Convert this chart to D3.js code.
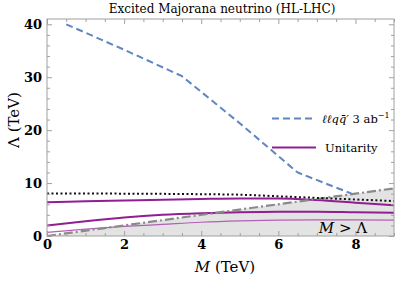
<!DOCTYPE html>
<html>
<head>
<meta charset="utf-8">
<script src="https://cdn.jsdelivr.net/npm/d3@7"></script>
<style>
  body { margin: 0; background: #fff; }
  svg text { font-family: "DejaVu Serif", "Liberation Serif", serif; }
</style>
</head>
<body>
<svg width="399" height="284"></svg>
<script>
var svg = d3.select("svg"),
    width = +svg.attr("width"),
    height = +svg.attr("height");

var serif = "'DejaVu Serif', 'Liberation Serif', serif";

// ℓℓqq̄' 3 ab^-1 reach
var dijetM = [0.5, 2, 3.5, 5, 6.5, 7.9];
var dijetL = [40, 35.2, 30.2, 21.3, 12, 8];
// dotted black line
var dotM = [0, 2, 4, 5, 6, 7, 8, 9];
var dotL = [8.05, 8.0, 7.9, 7.8, 7.5, 7.2, 6.9, 6.6];
// unitarity lines
var uniM = [0, 1, 2, 3, 4, 5, 6, 7, 8, 9];
var uniTop = [6.4, 6.55, 6.7, 6.85, 7.0, 7.1, 7.1, 6.8, 6.3, 5.8];
var uniMid = [2.0, 2.8, 3.5, 4.0, 4.3, 4.5, 4.6, 4.6, 4.5, 4.4];
var uniLow = [0.7, 1.3, 1.8, 2.2, 2.6, 2.85, 3.0, 3.05, 3.05, 3.0];
// M = Lambda boundary
var diagM = [0, 9];
var diagL = [0, 9];

var xTicks = [0, 2, 4, 6, 8];
var yTicks = [0, 10, 20, 30, 40];

var x = d3.scaleLinear().domain([0, 9]).range([47, 394]),
    y = d3.scaleLinear().domain([0, 41]).range([236, 19]);

var pts = function(ms, ls) {
    return ms.map(function(m, i) { return [m, ls[i]]; });
};
var line = d3.line()
    .x(function(d) { return x(d[0]); })
    .y(function(d) { return y(d[1]); })
    .curve(d3.curveMonotoneX);

svg.append("clipPath").attr("id", "clip")
    .append("rect")
    .attr("x", 47).attr("y", 19)
    .attr("width", 347).attr("height", 217);

var plot = svg.append("g").attr("clip-path", "url(#clip)");

// shaded M > Lambda region
plot.append("path")
    .datum(pts(diagM, diagL))
    .attr("fill", "#e3e3e3")
    .attr("d", d3.area()
        .x(function(d) { return x(d[0]); })
        .y0(y(0))
        .y1(function(d) { return y(d[1]); }));

plot.append("path")
    .datum(pts(uniM, uniLow))
    .attr("fill", "none")
    .attr("stroke", "#b25fb4")
    .attr("stroke-width", 1.2)
    .attr("d", line);

plot.append("path")
    .datum(pts(uniM, uniMid))
    .attr("fill", "none")
    .attr("stroke", "#8f1f92")
    .attr("stroke-width", 2)
    .attr("d", line);

plot.append("path")
    .datum(pts(uniM, uniTop))
    .attr("fill", "none")
    .attr("stroke", "#8f1f92")
    .attr("stroke-width", 2)
    .attr("d", line);

plot.append("path")
    .datum(pts(diagM, diagL))
    .attr("fill", "none")
    .attr("stroke", "#8a8a8a")
    .attr("stroke-width", 2.2)
    .attr("stroke-dasharray", "9,3,2,3")
    .attr("d", line);

plot.append("path")
    .datum(pts(dotM, dotL))
    .attr("fill", "none")
    .attr("stroke", "#111")
    .attr("stroke-width", 2)
    .attr("stroke-dasharray", "2,2.5")
    .attr("d", line);

plot.append("path")
    .datum(pts(dijetM, dijetL))
    .attr("fill", "none")
    .attr("stroke", "#5f86c2")
    .attr("stroke-width", 2)
    .attr("stroke-dasharray", "7,4")
    .attr("d", d3.line()
        .x(function(d) { return x(d[0]); })
        .y(function(d) { return y(d[1]); }));

// frame
svg.append("rect")
    .attr("x", 47).attr("y", 19)
    .attr("width", 347).attr("height", 217)
    .attr("fill", "none")
    .attr("stroke", "#a0a0a0")
    .attr("stroke-width", 1);

// ticks on all four sides
var minorX = d3.range(0, 9.01, 0.5).filter(function(v) { return v % 2 !== 0; }),
    minorY = d3.range(0, 41, 2).filter(function(v) { return v % 10 !== 0; });

function styleAxis(g) {
    g.attr("font-family", serif);
    g.select(".domain").remove();
    g.selectAll("line").attr("stroke", "#a0a0a0");
    g.selectAll("text")
        .style("font-family", serif)
        .attr("font-weight", "bold")
        .attr("font-size", 13)
        .attr("fill", "#000");
}

svg.append("g").attr("transform", "translate(0,236)")
    .call(d3.axisBottom(x).tickValues(xTicks).tickSize(-5).tickPadding(4).tickFormat(d3.format("d")))
    .call(styleAxis);
svg.append("g").attr("transform", "translate(0,236)")
    .call(d3.axisBottom(x).tickValues(minorX).tickSize(-3).tickFormat(""))
    .call(styleAxis);
svg.append("g").attr("transform", "translate(0,19)")
    .call(d3.axisTop(x).tickValues(xTicks).tickSize(-5).tickFormat(""))
    .call(styleAxis);
svg.append("g").attr("transform", "translate(0,19)")
    .call(d3.axisTop(x).tickValues(minorX).tickSize(-3).tickFormat(""))
    .call(styleAxis);

svg.append("g").attr("transform", "translate(47,0)")
    .call(d3.axisLeft(y).tickValues(yTicks).tickSize(-5).tickPadding(5).tickFormat(d3.format("d")))
    .call(styleAxis);
svg.append("g").attr("transform", "translate(47,0)")
    .call(d3.axisLeft(y).tickValues(minorY).tickSize(-3).tickFormat(""))
    .call(styleAxis);
svg.append("g").attr("transform", "translate(394,0)")
    .call(d3.axisRight(y).tickValues(yTicks).tickSize(-5).tickFormat(""))
    .call(styleAxis);
svg.append("g").attr("transform", "translate(394,0)")
    .call(d3.axisRight(y).tickValues(minorY).tickSize(-3).tickFormat(""))
    .call(styleAxis);

// title
svg.append("text")
    .attr("x", 222).attr("y", 13)
    .attr("text-anchor", "middle")
    .attr("font-size", 12)
    .text("Excited Majorana neutrino (HL-LHC)");

// axis labels
var xl = svg.append("text")
    .attr("x", 225).attr("y", 272)
    .attr("text-anchor", "middle")
    .attr("font-size", 15);
xl.append("tspan").attr("font-style", "italic").text("M");
xl.append("tspan").text(" (TeV)");

var yl = svg.append("text")
    .attr("transform", "translate(19,120) rotate(-90)")
    .attr("text-anchor", "middle")
    .attr("font-size", 15);
yl.append("tspan").text("Λ  (TeV)");

// region label
var rl = svg.append("text")
    .attr("x", 343).attr("y", 233)
    .attr("text-anchor", "middle")
    .attr("font-size", 15);
rl.append("tspan").attr("font-style", "italic").text("M");
rl.append("tspan").text(" > Λ");

// legend
var legend = svg.append("g");
legend.append("line")
    .attr("x1", 272).attr("x2", 315)
    .attr("y1", 118.5).attr("y2", 118.5)
    .attr("stroke", "#5f86c2")
    .attr("stroke-width", 2)
    .attr("stroke-dasharray", "7,4");
var lt = legend.append("text")
    .attr("x", 322).attr("y", 123)
    .attr("font-size", 11.5);
lt.append("tspan").attr("font-style", "italic").text("ℓℓqq\u0304′");
lt.append("tspan").text(" 3 ab");
lt.append("tspan").attr("dy", -5).attr("font-size", 8).text("−1");

legend.append("line")
    .attr("x1", 272).attr("x2", 316)
    .attr("y1", 147.5).attr("y2", 147.5)
    .attr("stroke", "#8f1f92")
    .attr("stroke-width", 2);
legend.append("text")
    .attr("x", 325).attr("y", 152)
    .attr("font-size", 11.5)
    .text("Unitarity");
</script>
</body>
</html>
